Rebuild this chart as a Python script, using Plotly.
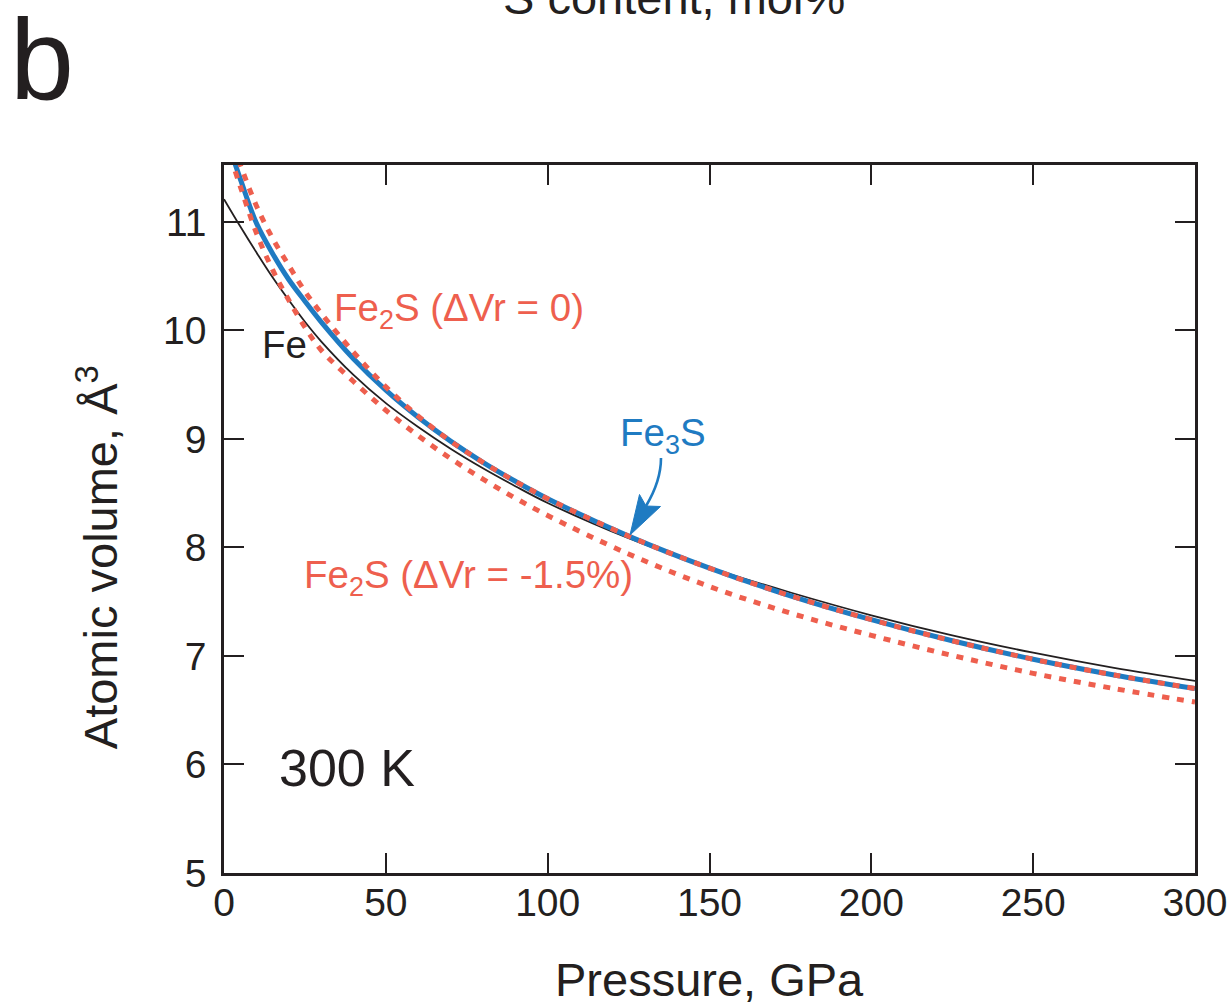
import plotly.graph_objects as go

# Pressure grids (GPa) and atomic volumes (Å^3)
P_fe = [0, 5, 10, 15, 20, 25, 30, 40, 50, 60, 70, 80, 90, 100, 125, 150, 175, 200, 225, 250, 275, 300]
V_fe = [11.21, 10.96, 10.72, 10.49, 10.28, 10.08, 9.90, 9.59, 9.33, 9.11, 8.91, 8.73, 8.565, 8.41,
        8.085, 7.815, 7.585, 7.375, 7.19, 7.03, 6.89, 6.77]

P_fe3s = [2, 5, 10, 15, 20, 25, 30, 40, 50, 60, 70, 80, 90, 100, 125, 150, 175, 200, 225, 250, 275, 300]
V_fe3s = [11.66, 11.40, 10.99, 10.71, 10.47, 10.27, 10.08, 9.74, 9.45, 9.20, 8.98, 8.785, 8.61, 8.45,
          8.105, 7.81, 7.555, 7.335, 7.14, 6.97, 6.825, 6.70]

P_fe2s_0 = [3, 5, 10, 15, 20, 25, 30, 40, 50, 60, 70, 80, 90, 100, 125, 150, 175, 200, 225, 250, 275, 300]
V_fe2s_0 = [11.70, 11.53, 11.15, 10.85, 10.60, 10.36, 10.16, 9.80, 9.48, 9.21, 8.98, 8.785, 8.61, 8.45,
            8.105, 7.81, 7.555, 7.335, 7.14, 6.97, 6.825, 6.70]

P_fe2s_15 = [2, 5, 10, 15, 20, 25, 30, 40, 50, 60, 70, 80, 90, 100, 125, 150, 175, 200, 225, 250, 275, 300]
V_fe2s_15 = [11.60, 11.33, 10.90, 10.56, 10.28, 10.03, 9.82, 9.53, 9.265, 9.03, 8.82, 8.63, 8.455, 8.295,
             7.94, 7.64, 7.395, 7.19, 7.005, 6.84, 6.70, 6.575]

x_ticks = [0, 50, 100, 150, 200, 250, 300]
y_ticks = [5, 6, 7, 8, 9, 10, 11]
X_RANGE = [0, 300]
Y_RANGE = [5, 11.525]

RED = "#EE5F4E"
BLUE = "#1F7BC2"
INK = "#231F20"
FONT = "Liberation Sans, Arial, sans-serif"
DOTS = "7px,8px"

W, H = 1232, 1007
ML, MR, MT, MB = 224, 37, 165, 134
PW, PH = W - ML - MR, H - MT - MB


def px2data(px, py):
    """Convert a pixel position on the page into data coordinates (for the callout arrow)."""
    x = X_RANGE[0] + (px - ML) / PW * (X_RANGE[1] - X_RANGE[0])
    y = Y_RANGE[1] - (py - MT) / PH * (Y_RANGE[1] - Y_RANGE[0])
    return x, y


def path(cmds):
    out = []
    for c in cmds:
        if isinstance(c, str):
            out.append(c)
        else:
            x, y = px2data(*c)
            out.append(f"{x:.4f},{y:.4f}")
    return " ".join(out)


fig = go.Figure()
fig.add_trace(go.Scatter(x=P_fe, y=V_fe, mode="lines", line=dict(color=INK, width=1.8, shape="spline"),
                         name="Fe", showlegend=False))
fig.add_trace(go.Scatter(x=P_fe3s, y=V_fe3s, mode="lines", line=dict(color=BLUE, width=5, shape="spline"),
                         name="Fe3S", showlegend=False))
fig.add_trace(go.Scatter(x=P_fe2s_15, y=V_fe2s_15, mode="lines",
                         line=dict(color=RED, width=5, dash=DOTS, shape="spline"),
                         name="Fe2S -1.5%", showlegend=False))
fig.add_trace(go.Scatter(x=P_fe2s_0, y=V_fe2s_0, mode="lines",
                         line=dict(color=RED, width=5, dash=DOTS, shape="spline"),
                         name="Fe2S 0", showlegend=False))

# curved callout arrow for Fe3S (stem + filled head)
stem = path(["M", (661, 458), "Q", (661, 481), (646, 506)])
head = path(["M", (630, 535), "L", (639.5, 494.5), "L", (646, 506), "L", (660.5, 506.5), "Z"])
fig.add_shape(type="path", path=stem, xref="x", yref="y", line=dict(color=BLUE, width=2.6))
fig.add_shape(type="path", path=head, xref="x", yref="y", line=dict(color=BLUE, width=1),
              fillcolor=BLUE)

LBL = 38.5
fe3s_x, fe3s_y = px2data(663, 435)
ann = []
ann.append(dict(x=18.6, y=9.87, xref="x", yref="y", xanchor="center", yanchor="middle", text="Fe",
                showarrow=False, font=dict(size=LBL, color=INK, family=FONT)))
ann.append(dict(x=33.3, y=10.18, xref="x", yref="y", xanchor="left", yanchor="middle",
                text="Fe<sub>2</sub>S (ΔVr = 0)",
                showarrow=False, font=dict(size=LBL, color=RED, family=FONT)))
ann.append(dict(x=24.0, y=7.72, xref="x", yref="y", xanchor="left", yanchor="middle",
                text="Fe<sub>2</sub>S (ΔVr = -1.5%)",
                showarrow=False, font=dict(size=LBL, color=RED, family=FONT)))
ann.append(dict(x=fe3s_x, y=fe3s_y, xref="x", yref="y", text="Fe<sub>3</sub>S",
                xanchor="center", yanchor="middle", showarrow=False,
                font=dict(size=LBL, color=BLUE, family=FONT)))
ann.append(dict(x=16.5, y=5.97, xref="x", yref="y", xanchor="left", yanchor="middle", text="300 K",
                showarrow=False, font=dict(size=52, color=INK, family=FONT)))
ann.append(dict(x=0.5, y=-0.151, xref="paper", yref="paper", xanchor="center", yanchor="middle",
                text="Pressure, GPa", showarrow=False, font=dict(size=47, color=INK, family=FONT)))
ann.append(dict(x=-0.1298, y=0.446, xref="paper", yref="paper", xanchor="center", yanchor="middle",
                text="Atomic volume, Å<sup>3</sup>",
                textangle=-90, showarrow=False, font=dict(size=47, color=INK, family=FONT)))
ann.append(dict(x=0.4635, y=1.196, xref="paper", yref="paper", xanchor="center", yanchor="bottom",
                text="S content, mol%", showarrow=False, font=dict(size=47, color=INK, family=FONT)))
ann.append(dict(x=-0.1874, y=1.15, xref="paper", yref="paper", xanchor="center", yanchor="middle",
                text="b", showarrow=False, font=dict(size=115, color=INK, family=FONT)))

fig.update_layout(
    width=W, height=H,
    margin=dict(l=ML, r=MR, t=MT, b=MB, autoexpand=False),
    paper_bgcolor="white", plot_bgcolor="white",
    font=dict(family=FONT, color=INK),
    annotations=ann,
)
fig.update_xaxes(range=X_RANGE, tickvals=x_ticks, ticks="inside", ticklen=20, tickwidth=2.2,
                 tickcolor=INK, showline=True, linewidth=2.5, linecolor=INK, mirror="ticks",
                 showgrid=False, zeroline=False, tickfont=dict(size=39, color=INK),
                 automargin=False, ticklabelstandoff=-7)
fig.update_yaxes(range=Y_RANGE, tickvals=y_ticks, ticks="inside", ticklen=20, tickwidth=2.2,
                 tickcolor=INK, showline=True, linewidth=2.5, linecolor=INK, mirror="ticks",
                 showgrid=False, zeroline=False, tickfont=dict(size=39, color=INK),
                 automargin=False, ticklabelstandoff=7)

fig.write_html("out.html")
